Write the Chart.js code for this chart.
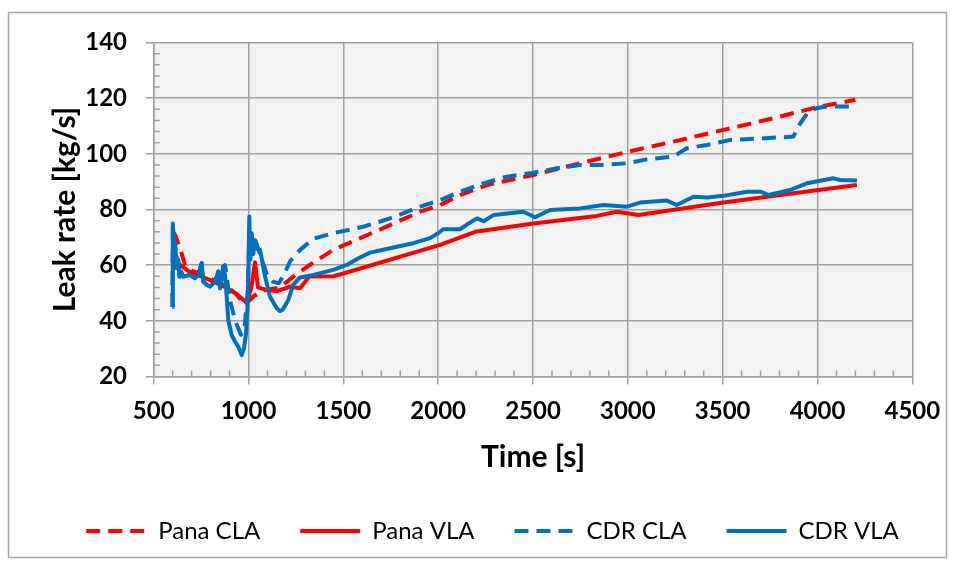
<!DOCTYPE html>
<html>
<head>
<meta charset="utf-8">
<script src="https://cdn.jsdelivr.net/npm/chart.js@4.4.1/dist/chart.umd.min.js"></script>
<style>
  html, body { margin: 0; padding: 0; background: #fff; }
  canvas { display: block; }
</style>
</head>
<body>
<canvas id="chart1" width="957" height="564"></canvas>
<script>
// axis ticks
const timeTicks = [500, 1000, 1500, 2000, 2500, 3000, 3500, 4000, 4500];
const rateTicks = [20, 40, 60, 80, 100, 120, 140];

// Pana CLA (red dashed)
const panaClaTime = [600, 612, 640, 665, 700, 760, 820, 880, 930, 978,
  1000, 1030, 1080, 1166, 1236, 1342, 1447, 1605, 1746, 1905,
  2010, 2115, 2256, 2502, 2713, 3003, 3240, 3504, 3750, 4000, 4200];
const panaClaRate = [72, 71, 66, 60, 58, 56.5, 54.5, 52.5, 50, 46,
  47, 49, 51, 52, 55.9, 61, 65.5, 70.2, 74.4, 79.2,
  81.6, 85.2, 88.8, 92.4, 96, 100.8, 104.4, 108.6, 112.5, 116.8, 119.4];

// Pana VLA (red solid)
const panaVlaTime = [600, 615, 640, 680, 750, 820, 880, 940, 990, 1015,
  1034, 1050, 1100, 1150, 1219, 1272, 1320, 1447, 1500, 2010,
  2195, 2502, 2836, 2942, 3056, 3504, 4005, 4208];
const panaVlaRate = [64, 62, 60, 58, 56, 54, 52, 49.5, 46.5, 52,
  61, 52, 51, 50.7, 52.3, 51.7, 55.9, 56, 57, 67.3,
  72, 75, 77.7, 79.2, 78, 82.5, 87, 88.8];

// CDR CLA (blue dashed)
const cdrClaTime = [598, 601, 606, 612, 618, 622, 630, 636, 645, 656,
  691, 718, 735, 753, 762, 780, 797, 823, 841, 850,
  867, 876, 885, 900, 930, 960, 980, 995, 1005, 1015,
  1030, 1050, 1075, 1100, 1130, 1160, 1190, 1220, 1272, 1342,
  1447, 1605, 1746, 1905, 2010, 2115, 2238, 2362, 2502, 2626,
  2748, 2854, 2995, 3100, 3240, 3311, 3417, 3540, 3700, 3873,
  3900, 3950, 4000, 4050, 4200];
const cdrClaRate = [45, 75, 66, 68.4, 63, 58.9, 61.9, 55.9, 57.7, 55.9,
  56.5, 55.3, 56.5, 60.7, 54.1, 52.9, 52.3, 54.1, 57.7, 51.7,
  59.5, 60, 56, 48, 40, 35, 38, 50, 72, 65,
  70, 66, 61, 56, 54, 53.5, 57, 61.5, 65.5, 69.5,
  71.5, 73.8, 76.8, 81, 83.4, 86.4, 89.4, 91.8, 93.2, 94.8,
  96, 96, 96.6, 98, 99, 102, 103.2, 105, 105.5, 106.2,
  110, 115, 116.5, 117, 117];

// CDR VLA (blue solid)
const cdrVlaTime = [598, 601, 606, 612, 618, 622, 630, 636, 645, 656,
  691, 718, 735, 753, 762, 780, 797, 823, 841, 850,
  867, 876, 885, 893, 911, 929, 946, 964, 976, 987,
  994, 999, 1004, 1010, 1017, 1025, 1035, 1045, 1061, 1087,
  1113, 1149, 1165, 1180, 1210, 1236, 1272, 1307, 1342, 1447,
  1518, 1580, 1641, 1746, 1869, 1957, 2000, 2027, 2115, 2150,
  2204, 2240, 2291, 2449, 2511, 2590, 2748, 2871, 2995, 3065,
  3206, 3258, 3346, 3420, 3504, 3628, 3700, 3742, 3856, 3944,
  4084, 4120, 4208];
const cdrVlaRate = [45, 75, 66, 68.4, 63, 58.9, 61.9, 55.9, 57.7, 55.9,
  56.5, 55.3, 56.5, 60.7, 54.1, 52.9, 52.3, 54.1, 57.7, 51.7,
  59.5, 56.5, 48.7, 40.3, 34.9, 32.5, 30.7, 27.7, 30.1, 35.5,
  43.9, 55.9, 77.5, 62, 71.5, 64, 69, 66, 65.5, 56,
  48.7, 44.5, 43.5, 44, 47.5, 53, 55.6, 56, 56.5, 58.3,
  60.1, 62.5, 64.5, 66.1, 67.9, 69.7, 71.5, 72.9, 72.9, 74.5,
  76.8, 75.8, 78, 79.2, 77.2, 79.8, 80.4, 81.6, 81, 82.5,
  83.2, 81.6, 84.6, 84.3, 84.9, 86.4, 86.4, 85.2, 87, 89.4,
  91.2, 90.6, 90.4];

const RED = '#ff0000';
const BLUE = '#0070c0';
const GRID = '#a0a0a0';
const FONT = 'Lato';

function pts(xs, ys) {
  return xs.map((x, i) => ({ x: x, y: ys[i] }));
}

// grey plot area, outer frame and the small inside minor ticks
const framePlugin = {
  id: 'frame',
  beforeDraw(chart) {
    const { ctx, chartArea } = chart;
    ctx.save();
    ctx.fillStyle = '#f2f2f2';
    ctx.fillRect(chartArea.left, chartArea.top, chartArea.right - chartArea.left, chartArea.bottom - chartArea.top);
    ctx.strokeStyle = '#a6a6a6';
    ctx.lineWidth = 1.5;
    ctx.strokeRect(8.5, 12.5, 938, 545);
    ctx.restore();
  },
  beforeDatasetsDraw(chart) {
    const { ctx, chartArea } = chart;
    const xs = chart.scales.x, ys = chart.scales.y;
    ctx.save();
    ctx.strokeStyle = GRID;
    ctx.lineWidth = 1.5;
    ctx.beginPath();
    for (let v = 20; v <= 140; v += 4) {
      if (v % 20 === 0) continue;
      const y = ys.getPixelForValue(v);
      ctx.moveTo(chartArea.left, y);
      ctx.lineTo(chartArea.left + 6, y);
    }
    for (let t = 500; t <= 4500; t += 100) {
      if (t % 500 === 0) continue;
      const x = xs.getPixelForValue(t);
      ctx.moveTo(x, chartArea.bottom);
      ctx.lineTo(x, chartArea.bottom - 6);
    }
    ctx.stroke();
    ctx.restore();
  }
};

new Chart(document.getElementById('chart1'), {
  type: 'line',
  data: {
    datasets: [
      { label: 'Pana CLA', data: pts(panaClaTime, panaClaRate), borderColor: RED, backgroundColor: RED, borderDash: [14, 8], order: 4 },
      { label: 'Pana VLA', data: pts(panaVlaTime, panaVlaRate), borderColor: RED, backgroundColor: RED, order: 3 },
      { label: 'CDR CLA', data: pts(cdrClaTime, cdrClaRate), borderColor: BLUE, backgroundColor: BLUE, borderDash: [14, 8], order: 2 },
      { label: 'CDR VLA', data: pts(cdrVlaTime, cdrVlaRate), borderColor: BLUE, backgroundColor: BLUE, order: 1 }
    ]
  },
  options: {
    responsive: false,
    maintainAspectRatio: false,
    animation: false,
    layout: { padding: { left: 28, right: 0, top: 42.5, bottom: 11 } },
    elements: {
      point: { radius: 0 },
      line: { borderWidth: 4, tension: 0, fill: false, borderJoinStyle: 'round' }
    },
    scales: {
      x: {
        type: 'linear', min: 500, max: 4500,
        afterBuildTicks: s => { s.ticks = timeTicks.map(v => ({ value: v })); },
        afterFit: s => { s.height = 102.5; },
        grid: { color: GRID, lineWidth: 1.5, tickLength: 8 },
        border: { color: GRID, width: 1.5 },
        ticks: { color: '#000', autoSkip: false, maxRotation: 0, padding: 12, callback: v => String(v), font: { family: FONT, size: 24, weight: 'bold' } },
        title: { display: true, text: 'Time [s]', color: '#000', padding: { top: 0, bottom: 4 }, font: { family: FONT, size: 30, weight: 'bold' } }
      },
      y: {
        type: 'linear', min: 20, max: 140,
        afterBuildTicks: s => { s.ticks = rateTicks.map(v => ({ value: v })); },
        afterFit: s => { s.width = 125.7; },
        grid: { color: GRID, lineWidth: 1.5, tickLength: 8 },
        border: { color: GRID, width: 1.5 },
        ticks: { color: '#000', padding: 18.7, callback: v => String(v), font: { family: FONT, size: 24, weight: 'bold' } },
        title: { display: true, text: 'Leak rate [kg/s]', color: '#000', padding: { top: 19, bottom: 0 }, font: { family: FONT, size: 30, weight: 'bold' } }
      },
      yRight: {
        type: 'linear', position: 'right',
        grid: { display: false },
        border: { display: false },
        ticks: { display: false },
        afterFit: s => { s.width = 44.7; }
      }
    },
    plugins: {
      tooltip: { enabled: false },
      legend: {
        position: 'bottom',
        labels: {
          usePointStyle: true,
          pointStyle: 'line',
          pointStyleWidth: 60,
          padding: 40,
          color: '#000',
          font: { family: FONT, size: 24 },
          generateLabels: chart => chart.data.datasets.map((ds, i) => ({
            text: ds.label,
            fillStyle: ds.borderColor,
            strokeStyle: ds.borderColor,
            fontColor: '#000',
            lineWidth: 4,
            lineDash: ds.borderDash || [],
            lineCap: 'butt',
            pointStyle: 'line',
            hidden: false,
            datasetIndex: i
          }))
        }
      }
    }
  },
  plugins: [framePlugin]
});
</script>
</body>
</html>
